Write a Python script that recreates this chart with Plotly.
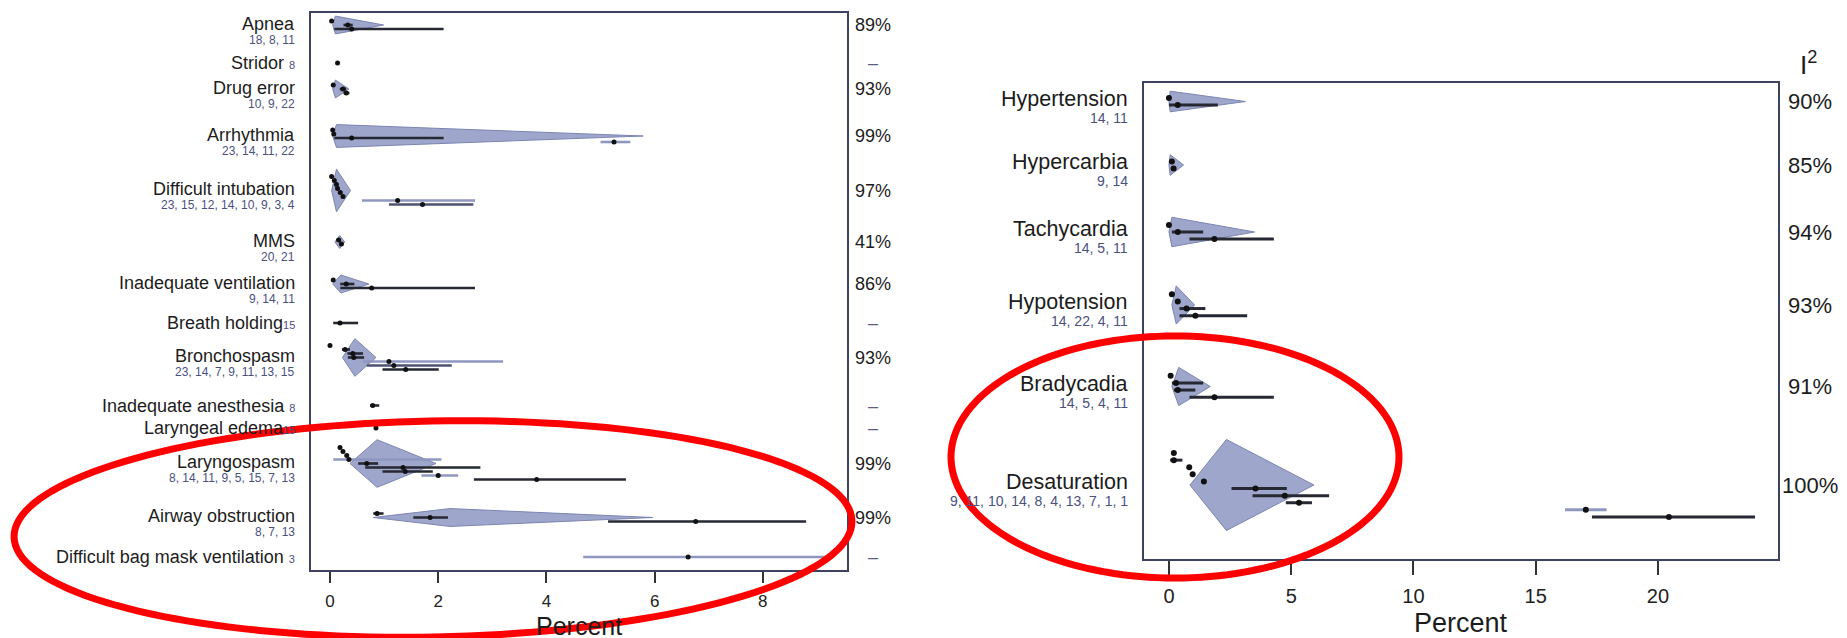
import math
import plotly.graph_objects as go

W, H = 1847, 638
FONT = "Liberation Sans, Arial, sans-serif"

# ---------------- left panel: incidence (%) per adverse event ----------------
left_outcomes = ["Apnea", "Stridor", "Drug error", "Arrhythmia", "Difficult intubation", "MMS",
                 "Inadequate ventilation", "Breath holding", "Bronchospasm", "Inadequate anesthesia",
                 "Laryngeal edema", "Laryngospasm", "Airway obstruction",
                 "Difficult bag mask ventilation"]
left_refs = ["18, 8, 11", "8", "10, 9, 22", "23, 14, 11, 22", "23, 15, 12, 14, 10, 9, 3, 4", "20, 21",
             "9, 14, 11", "15", "23, 14, 7, 9, 11, 13, 15", "8", "15", "8, 14, 11, 9, 5, 15, 7, 13",
             "8, 7, 13", "3"]
left_i2 = ["89%", "–", "93%", "99%", "97%", "41%", "86%", "–", "93%", "–", "–", "99%", "99%", "–"]

left_pooled_est = [0.10, None, 0.10, 0.12, 0.12, 0.18, 0.20, None, 0.46, None, None, 0.87, 2.22, None]
left_pooled_lo = [0.05, None, 0.05, 0.05, 0.03, 0.09, 0.05, None, 0.23, None, None, 0.37, 0.80, None]
left_pooled_hi = [0.99, None, 0.35, 5.79, 0.38, 0.27, 0.72, None, 0.85, None, None, 1.96, 5.97, None]

left_study_est = {
    "Apnea": [0.03, 0.33, 0.40],
    "Stridor": [0.14],
    "Drug error": [0.06, 0.24, 0.30],
    "Arrhythmia": [0.05, 0.07, 0.40, 5.25],
    "Difficult intubation": [0.03, 0.08, 0.12, 0.14, 0.19, 0.24, 1.25, 1.71],
    "MMS": [0.16, 0.21],
    "Inadequate ventilation": [0.06, 0.30, 0.77],
    "Breath holding": [0.185],
    "Bronchospasm": [0.00, 0.28, 0.42, 0.44, 1.09, 1.18, 1.40],
    "Inadequate anesthesia": [0.79],
    "Laryngeal edema": [0.85],
    "Laryngospasm": [0.185, 0.24, 0.31, 0.35, 0.68, 1.35, 1.39, 2.00, 3.82],
    "Airway obstruction": [0.87, 1.85, 6.76],
    "Difficult bag mask ventilation": [6.62],
}
left_study_lo = {
    "Apnea": [0.02, 0.25, 0.08],
    "Stridor": [0.12],
    "Drug error": [0.04, 0.18, 0.25],
    "Arrhythmia": [0.03, 0.05, 0.08, 5.00],
    "Difficult intubation": [0.02, 0.06, 0.10, 0.12, 0.16, 0.21, 0.59, 1.09],
    "MMS": [0.12, 0.17],
    "Inadequate ventilation": [0.04, 0.19, 0.19],
    "Breath holding": [0.06],
    "Bronchospasm": [0.00, 0.22, 0.32, 0.33, 0.61, 0.68, 0.97],
    "Inadequate anesthesia": [0.74],
    "Laryngeal edema": [0.82],
    "Laryngospasm": [0.17, 0.22, 0.29, 0.06, 0.52, 0.65, 0.97, 1.69, 2.66],
    "Airway obstruction": [0.80, 1.54, 5.14],
    "Difficult bag mask ventilation": [4.68],
}
left_study_hi = {
    "Apnea": [0.05, 0.42, 2.10],
    "Stridor": [0.16],
    "Drug error": [0.08, 0.30, 0.36],
    "Arrhythmia": [0.07, 0.09, 2.10, 5.55],
    "Difficult intubation": [0.05, 0.10, 0.14, 0.17, 0.22, 0.27, 2.68, 2.65],
    "MMS": [0.20, 0.25],
    "Inadequate ventilation": [0.08, 0.45, 2.68],
    "Breath holding": [0.52],
    "Bronchospasm": [0.02, 0.37, 0.61, 0.63, 3.20, 2.25, 2.01],
    "Inadequate anesthesia": [0.91],
    "Laryngeal edema": [0.88],
    "Laryngospasm": [0.20, 0.26, 0.33, 2.06, 0.89, 2.78, 1.90, 2.37, 5.47],
    "Airway obstruction": [0.99, 2.18, 8.80],
    "Difficult bag mask ventilation": [9.20],
}
# studies whose interval is drawn in the lighter / intermediate tone
left_light = {"Arrhythmia": [3], "Difficult intubation": [6], "Bronchospasm": [4],
              "Laryngospasm": [3, 7], "Difficult bag mask ventilation": [0]}
left_medium = {"Difficult intubation": [7], "Bronchospasm": [5]}

# ---------------- right panel: incidence (%) per physiological event ----------------
right_outcomes = ["Hypertension", "Hypercarbia", "Tachycardia", "Hypotension", "Bradycadia",
                  "Desaturation"]
right_refs = ["14, 11", "9, 14", "14, 5, 11", "14, 22, 4, 11", "14, 5, 4, 11",
              "9, 11, 10, 14, 8, 4, 13, 7, 1, 1"]
right_i2 = ["90%", "85%", "94%", "93%", "91%", "100%"]

right_pooled_est = [0.05, 0.05, 0.12, 0.30, 0.40, 2.35]
right_pooled_lo = [0.00, 0.00, 0.00, 0.12, 0.12, 0.86]
right_pooled_hi = [3.13, 0.60, 3.50, 1.05, 1.69, 5.93]

right_study_est = {
    "Hypertension": [0.00, 0.36],
    "Hypercarbia": [0.12, 0.19],
    "Tachycardia": [0.00, 0.36, 1.86],
    "Hypotension": [0.12, 0.36, 0.72, 1.08],
    "Bradycadia": [0.07, 0.29, 0.36, 1.86],
    "Desaturation": [0.20, 0.20, 0.83, 0.97, 1.43, 3.54, 4.74, 5.32, 17.05, 20.45],
}
right_study_lo = {
    "Hypertension": [0.00, 0.00],
    "Hypercarbia": [0.08, 0.15],
    "Tachycardia": [0.00, 0.12, 0.84],
    "Hypotension": [0.10, 0.30, 0.43, 0.43],
    "Bradycadia": [0.05, 0.12, 0.20, 0.84],
    "Desaturation": [0.15, 0.05, 0.78, 0.92, 1.38, 2.56, 3.42, 4.78, 16.20, 17.30],
}
right_study_hi = {
    "Hypertension": [0.05, 2.00],
    "Hypercarbia": [0.16, 0.23],
    "Tachycardia": [0.05, 1.40, 4.29],
    "Hypotension": [0.15, 0.42, 1.49, 3.20],
    "Bradycadia": [0.10, 1.40, 1.08, 4.29],
    "Desaturation": [0.25, 0.55, 0.88, 1.02, 1.48, 4.82, 6.55, 5.85, 17.90, 23.97],
}
right_light = {"Desaturation": [8]}
right_medium = {}

# ---------------- layout geometry (pixel units on the reversed y axes) ----------------
left_row_y = [25, 63, 89, 136, 190.5, 242, 284, 323, 357.5, 405.5, 428, 463.5, 517.5, 557]
right_row_y = [101.5, 165, 232, 305, 386.5, 485]

DIAMOND_FILL = "rgba(150,158,199,0.92)"
DIAMOND_EDGE = "#7c85b3"
TONE = {"dark": "#262833", "medium": "#4c5272", "light": "#8f97c0"}
LABEL = "#1c1c1c"
REFCOL = "#4a5080"
FRAME = "#3d4260"

fig = go.Figure()


def draw_panel(outcomes, rows, est, lo, hi, pest, plo, phi, light, medium, sp, xa, ya, lw, ms):
    segs = {"dark": ([], []), "medium": ([], []), "light": ([], [])}
    px, py = [], []
    for k, name in enumerate(outcomes):
        e = est[name]
        n = len(e)
        c = rows[k]
        ys = [c + (i - (n - 1) / 2) * sp for i in range(n)]
        if pest[k] is not None:
            h = 0.62 * sp * n + 1.5
            fig.add_trace(go.Scatter(
                x=[pest[k], phi[k], pest[k], plo[k], pest[k]],
                y=[c - h, c, c + h, c, c - h],
                mode="lines", fill="toself", fillcolor=DIAMOND_FILL,
                line=dict(color=DIAMOND_EDGE, width=1),
                xaxis=xa, yaxis=ya, hoverinfo="skip", showlegend=False))
        for i in range(n):
            tone = "dark"
            if i in light.get(name, []):
                tone = "light"
            elif i in medium.get(name, []):
                tone = "medium"
            segs[tone][0].extend([lo[name][i], hi[name][i], None])
            segs[tone][1].extend([ys[i], ys[i], None])
            px.append(e[i])
            py.append(ys[i])
    for tone in ("light", "medium", "dark"):
        fig.add_trace(go.Scatter(x=segs[tone][0], y=segs[tone][1], mode="lines",
                                 line=dict(color=TONE[tone], width=lw),
                                 xaxis=xa, yaxis=ya, hoverinfo="skip", showlegend=False))
    fig.add_trace(go.Scatter(x=px, y=py, mode="markers",
                             marker=dict(color="#111111", size=ms, line=dict(width=0)),
                             xaxis=xa, yaxis=ya, hoverinfo="skip", showlegend=False))


draw_panel(left_outcomes, left_row_y, left_study_est, left_study_lo, left_study_hi,
           left_pooled_est, left_pooled_lo, left_pooled_hi, left_light, left_medium,
           4.0, "x", "y", 2.6, 5)
draw_panel(right_outcomes, right_row_y, right_study_est, right_study_lo, right_study_hi,
           right_pooled_est, right_pooled_lo, right_pooled_hi, right_light, right_medium,
           7.1, "x2", "y2", 3, 6)


def add_labels(outcomes, refs, i2, pest, rows, yref, xr, xi2, fs, rfs, ifs, dy_lab, dy_ref):
    for k, name in enumerate(outcomes):
        c = rows[k]
        if pest[k] is None:
            gap = "" if name in ("Breath holding", "Laryngeal edema") else " "
            txt = f"{name}{gap}<span style='font-size:{rfs - 1}px;fill:{REFCOL}'>{refs[k]}</span>"
            fig.add_annotation(x=xr / W, y=c, xref="paper", yref=yref, text=txt, showarrow=False,
                               xanchor="right", yanchor="middle",
                               font=dict(family=FONT, size=fs, color=LABEL))
        else:
            fig.add_annotation(x=xr / W, y=c + dy_lab, xref="paper", yref=yref, text=name,
                               showarrow=False, xanchor="right", yanchor="middle",
                               font=dict(family=FONT, size=fs, color=LABEL))
            fig.add_annotation(x=xr / W, y=c + dy_ref, xref="paper", yref=yref, text=refs[k],
                               showarrow=False, xanchor="right", yanchor="middle",
                               font=dict(family=FONT, size=rfs, color=REFCOL))
        fig.add_annotation(x=xi2 / W, y=c, xref="paper", yref=yref, text=i2[k], showarrow=False,
                           xanchor="center", yanchor="middle",
                           font=dict(family=FONT, size=ifs,
                                     color=LABEL if i2[k] != "–" else "#5a5f80"))


add_labels(left_outcomes, left_refs, left_i2, left_pooled_est, left_row_y, "y",
           297, 873, 18, 12, 18, -1.5, 14.5)
add_labels(right_outcomes, right_refs, right_i2, right_pooled_est, right_row_y, "y2",
           1130, 1810, 21.5, 14, 22, -3, 16)

# column header and axis titles
fig.add_annotation(x=1808 / W, y=1 - 64 / H, xref="paper", yref="paper", text="I<sup>2</sup>",
                   showarrow=False, xanchor="center", yanchor="middle",
                   font=dict(family=FONT, size=26, color=LABEL))
fig.add_annotation(x=579 / W, y=1 - 626 / H, xref="paper", yref="paper", text="Percent",
                   showarrow=False, xanchor="center", yanchor="middle",
                   font=dict(family=FONT, size=25, color=LABEL))
fig.add_annotation(x=1461 / W, y=1 - 623 / H, xref="paper", yref="paper", text="Percent",
                   showarrow=False, xanchor="center", yanchor="middle",
                   font=dict(family=FONT, size=27, color=LABEL))


def ellipse_path(cx, cy, rx, ry, rot_deg, n=160):
    th = math.radians(rot_deg)
    pts = []
    for j in range(n + 1):
        t = 2 * math.pi * j / n
        x = cx + rx * math.cos(t) * math.cos(th) - ry * math.sin(t) * math.sin(th)
        y = cy + rx * math.cos(t) * math.sin(th) + ry * math.sin(t) * math.cos(th)
        pts.append((x / W, 1 - y / H))
    return "M " + " L ".join(f"{a:.5f},{b:.5f}" for a, b in pts) + " Z"


for cx, cy, rx, ry, rot in [(433, 529, 419, 108, -1.1), (1175, 457, 224, 121, 0)]:
    fig.add_shape(type="path", path=ellipse_path(cx, cy, rx, ry, rot), xref="paper", yref="paper",
                  line=dict(color="#ff0000", width=7), layer="above")

axis_common = dict(showgrid=False, zeroline=False, showline=True, mirror=True,
                   linecolor=FRAME, linewidth=2)

fig.update_layout(
    width=W, height=H, margin=dict(l=0, r=0, t=0, b=0),
    paper_bgcolor="white", plot_bgcolor="white", showlegend=False,
    xaxis=dict(domain=[311 / W, 847 / W], range=[-0.351, 9.556], tickvals=[0, 2, 4, 6, 8],
               ticks="outside", ticklen=11, tickwidth=2, tickcolor="#333333",
               ticklabelstandoff=4, tickfont=dict(family=FONT, size=17, color="#222222"),
               anchor="y", **axis_common),
    yaxis=dict(domain=[1 - 570 / H, 1 - 13 / H], range=[570, 13], showticklabels=False,
               ticks="", anchor="x", **axis_common),
    xaxis2=dict(domain=[1144 / W, 1778 / W], range=[-1.02, 24.91], tickvals=[0, 5, 10, 15, 20],
                ticks="outside", ticklen=14, tickwidth=2, tickcolor="#333333",
                ticklabelstandoff=4, tickfont=dict(family=FONT, size=20, color="#222222"),
                anchor="y2", **axis_common),
    yaxis2=dict(domain=[1 - 559 / H, 1 - 83 / H], range=[559, 83], showticklabels=False,
                ticks="", anchor="x2", **axis_common),
)

fig.write_html("out.html")
